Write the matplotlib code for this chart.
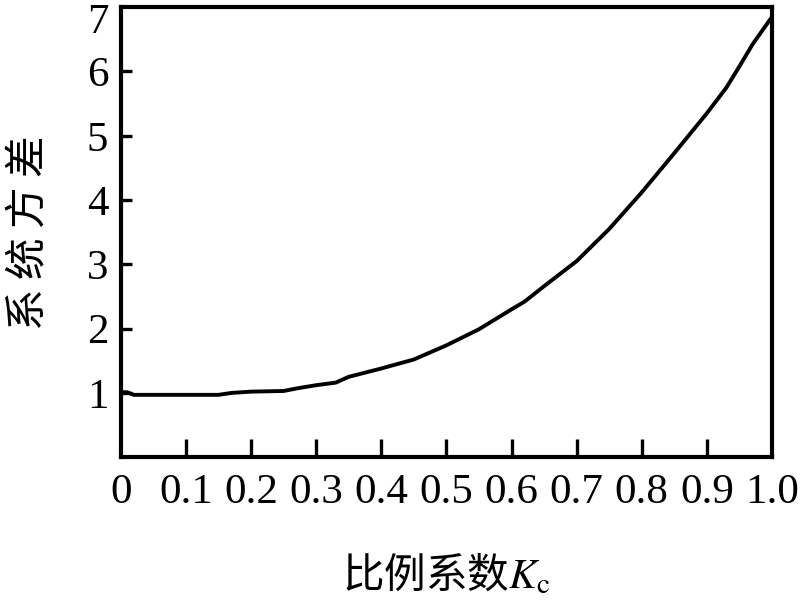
import numpy as np
import matplotlib
matplotlib.use('Agg')
import matplotlib.pyplot as plt
import matplotlib.transforms as mtransforms

# values
kc = [0.0, 0.01, 0.02, 0.05, 0.10, 0.15, 0.17, 0.20, 0.25, 0.27, 0.30, 0.33, 0.35,
      0.40, 0.45, 0.50, 0.55, 0.60, 0.62, 0.65, 0.70, 0.75, 0.80, 0.85, 0.90, 0.93,
      0.95, 0.97, 1.00]
variance = [1.01, 1.01, 0.97, 0.97, 0.97, 0.97, 1.00, 1.02, 1.03, 1.07, 1.12, 1.16, 1.25,
            1.38, 1.52, 1.74, 1.99, 2.30, 2.42, 2.66, 3.05, 3.55, 4.12, 4.73, 5.35, 5.75,
            6.08, 6.42, 6.85]
xticks = [0, 0.1, 0.2, 0.3, 0.4, 0.5, 0.6, 0.7, 0.8, 0.9, 1.0]
xticklabels = ['0', '0.1', '0.2', '0.3', '0.4', '0.5', '0.6', '0.7', '0.8', '0.9', '1.0']
yticks = [1, 2, 3, 4, 5, 6, 7]

plt.rcParams['font.family'] = ['Liberation Serif', 'Noto Sans CJK SC', 'DejaVu Sans']
plt.rcParams['mathtext.fontset'] = 'stix'

fig = plt.figure(figsize=(8, 6), dpi=100)
ax = fig.add_axes([0.151, 0.238, 0.814, 0.750])

ax.plot(kc, variance, color='black', linewidth=2.8)

ax.set_xlim(0, 1.0)
ax.set_ylim(0, 7)
ax.set_xticks(xticks)
ax.set_xticklabels(xticklabels)
ax.set_yticks(yticks)

for s in ax.spines.values():
    s.set_linewidth(3)

ax.tick_params(axis='x', direction='in', length=13, width=2.4, pad=12, labelsize=31)
ax.tick_params(axis='y', direction='in', length=8, width=2.4, pad=9, labelsize=31)
# no inner ticks where the spines are
for t in (ax.xaxis.get_major_ticks()[0], ax.xaxis.get_major_ticks()[-1],
          ax.yaxis.get_major_ticks()[-1]):
    t.tick1line.set_visible(False)

# top label "7" sits a bit lower, inside the picture
fig.canvas.draw()
lab7 = ax.yaxis.get_major_ticks()[-1].label1
lab7.set_transform(lab7.get_transform() +
                   mtransforms.ScaledTranslation(0, -8 / 72, fig.dpi_scale_trans))

cjk = ['Noto Sans CJK SC', 'DejaVu Sans']
ax.set_xlabel('比例系数$K_\\mathrm{c}$', family=cjk, fontsize=30, labelpad=28)
ax.set_ylabel('系 统 方 差', family=cjk, fontsize=30, labelpad=26)

fig.savefig('out.png', dpi=100)
